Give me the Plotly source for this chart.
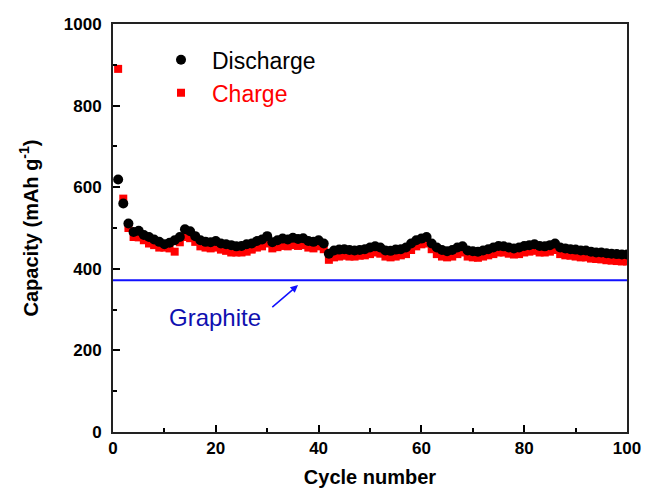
import plotly.graph_objects as go

cycles = list(range(1, 101))
discharge = [619, 560, 511, 490, 493, 483, 478, 472, 466, 460,
             464, 470, 478, 497, 492, 480, 470, 466, 465, 468,
             462, 460, 458, 455, 456, 460, 462, 468, 472, 480,
             465, 470, 474, 472, 476, 473, 475, 468, 466, 470,
             462, 437, 445, 447, 448, 446, 445, 446, 448, 452,
             455, 452, 445, 444, 447, 448, 452, 462, 470, 474,
             478, 462, 452, 446, 443, 446, 452, 455, 445, 443,
             442, 445, 448, 452, 456, 455, 452, 450, 452, 456,
             458, 460, 456, 455, 458, 462, 452, 450, 448, 447,
             445, 445, 442, 440, 440, 438, 437, 436, 435, 435]
charge = [890, 572, 500, 478, 477, 470, 462, 458, 452, 452,
          450, 442, 465, 478, 475, 466, 455, 452, 450, 452,
          447, 444, 440, 440, 440, 442, 447, 452, 455, 462,
          450, 453, 456, 455, 458, 456, 458, 452, 450, 455,
          448, 422, 428, 430, 432, 430, 430, 432, 433, 436,
          440, 437, 430, 428, 430, 433, 436, 446, 455, 460,
          462, 448, 436, 430, 428, 430, 436, 440, 430, 428,
          427, 430, 433, 436, 440, 440, 437, 435, 436, 440,
          442, 444, 440, 440, 442, 446, 436, 433, 432, 430,
          428, 428, 425, 424, 423, 421, 420, 419, 418, 418]
graphite_x = [0, 100]
graphite_y = [372, 372]

FONT = "Liberation Sans, Arial, sans-serif"

fig = go.Figure()
fig.add_trace(go.Scatter(x=graphite_x, y=graphite_y, mode="lines",
                         line=dict(color="#1010ff", width=2), showlegend=False))
fig.add_trace(go.Scatter(x=cycles, y=charge, mode="markers", name='<span style="color:#ff0000">Charge</span>',
                         marker=dict(symbol="square", size=8, color="#ff0000", line=dict(width=0)),
                         legendrank=2))
fig.add_trace(go.Scatter(x=cycles, y=discharge, mode="markers", name="Discharge",
                         marker=dict(symbol="circle", size=10, color="#000000", line=dict(width=0)),
                         legendrank=1))

fig.add_annotation(x=19.8, y=280, text="Graphite", showarrow=False,
                   font=dict(family=FONT, size=24, color="#1010b0"))
fig.add_annotation(x=36, y=360, ax=30.7, ay=303, axref="x", ayref="y",
                   text="", showarrow=True, arrowhead=2, arrowsize=1, arrowwidth=1.5,
                   arrowcolor="#1010ff")

fig.update_layout(
    width=648, height=484,
    margin=dict(l=105, r=29, t=7, b=60),
    paper_bgcolor="white", plot_bgcolor="white",
    font=dict(family=FONT, color="black"),
    legend=dict(x=0.072, y=0.965, xanchor="left", yanchor="top",
                font=dict(family=FONT, size=23, color="black"),
                bgcolor="rgba(0,0,0,0)", itemsizing="trace", itemwidth=52, tracegroupgap=0),
    xaxis=dict(range=[0, 100], dtick=20, tick0=0, ticks="inside", ticklen=7, tickwidth=1.5,
               tickcolor="black", showgrid=False, zeroline=False,
               showline=True, linecolor="#222", linewidth=2, mirror=True,
               tickfont=dict(family=FONT, size=17, color="black", weight="bold"),
               minor=dict(dtick=10, ticks="inside", ticklen=4, tickwidth=1.5, tickcolor="black"),
               title=dict(text="<b>Cycle number</b>", font=dict(family=FONT, size=20, color="black"),
                          standoff=13)),
    yaxis=dict(range=[0, 1000], dtick=200, tick0=0, ticks="inside", ticklen=7, tickwidth=1.5,
               tickcolor="black", showgrid=False, zeroline=False, ticklabeloverflow="allow",
               ticklabelstandoff=6,
               showline=True, linecolor="#222", linewidth=2, mirror=True,
               tickfont=dict(family=FONT, size=17, color="black", weight="bold"),
               minor=dict(dtick=100, ticks="inside", ticklen=4, tickwidth=1.5, tickcolor="black"),
               title=dict(text="<b>Capacity (mAh g<sup>-1</sup>)</b>",
                          font=dict(family=FONT, size=20, color="black"), standoff=20)),
)

fig.write_html("out.html")
